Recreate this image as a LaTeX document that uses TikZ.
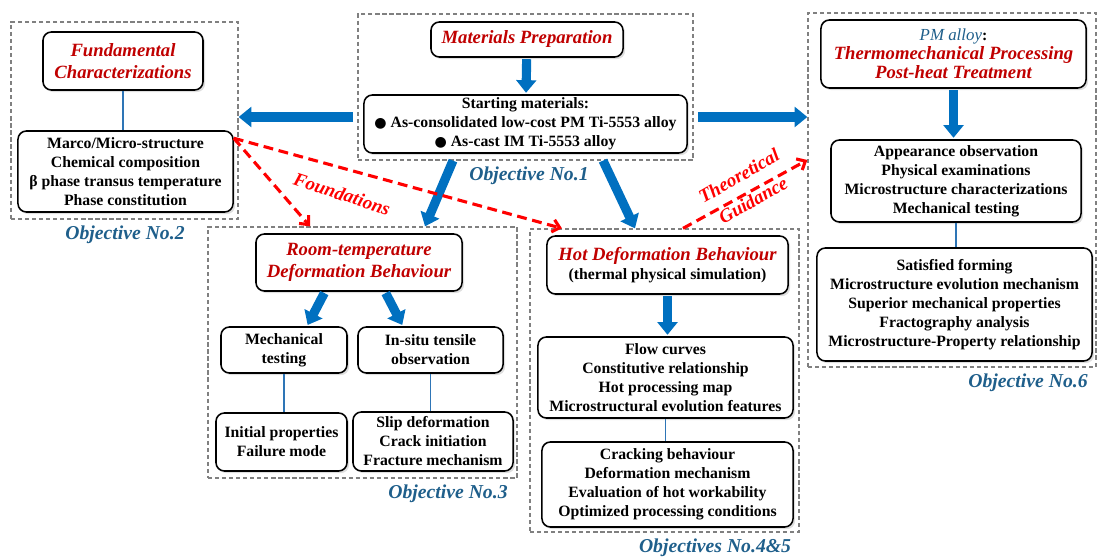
\documentclass[tikz,border=0pt]{standalone}
\usepackage{fontspec}
\setmainfont{Liberation Serif}
\newfontfamily\dejavu{DejaVu Sans}
\usetikzlibrary{arrows.meta,fit,shadows}
\definecolor{arrowblue}{HTML}{0070C0}
\definecolor{lineblue}{HTML}{2E75B6}
\definecolor{titlered}{HTML}{C00000}
\definecolor{dashred}{HTML}{FF0000}
\definecolor{objblue}{HTML}{1F5F8B}
\newcommand{\titlefont}{\fontsize{13.3}{16}\selectfont\bfseries\itshape\color{titlered}}
\begin{document}
\begin{tikzpicture}[x=0.025cm, y=-0.025cm,
		box/.style={draw, line width=1.1pt, rounded corners=6pt, fill=white, align=center, inner sep=2pt, font=\fontsize{11.2}{13.5}\selectfont\bfseries, drop shadow={opacity=0.25, shadow xshift=1.5pt, shadow yshift=-1.5pt}},
		titlebox/.style={box, font=\titlefont},
		objframe/.style={draw=gray, line width=0.9pt, dash pattern=on 3pt off 2pt, inner sep=0pt},
		objlabel/.style={font=\fontsize{14}{16}\selectfont\bfseries\itshape, text=objblue},
		bigarrow/.style={draw=arrowblue, line width=6.5pt, -{Triangle[length=9pt,width=14pt]}},
		link/.style={draw=lineblue, line width=1.2pt},
		guide/.style={draw=dashred, line width=2.2pt, dash pattern=on 7pt off 4pt, -{Straight Barb[length=5pt,width=9pt]}},
		guidelabel/.style={font=\fontsize{13.5}{20}\selectfont\bfseries\itshape, text=dashred, align=center}]
	\useasboundingbox (0,0) rectangle (1098,558);
	
	\node[objframe, fit={(358,14) (693,160)}] (obj1) {};
	\node[objframe, fit={(11,22) (238,219)}] (obj2) {};
	\node[objframe, fit={(208,227) (517,478)}] (obj3) {};
	\node[objframe, fit={(530,229) (799,532)}] (obj45) {};
	\node[objframe, fit={(808,13) (1096,367)}] (obj6) {};
	
	\node[objlabel] (lab1) at (529,176) {Objective No.1};
	\node[objlabel] (lab2) at (125,235) {Objective No.2};
	\node[objlabel] (lab3) at (448,494) {Objective No.3};
	\node[objlabel] (lab45) at (715,548) {Objectives No.4\&5};
	\node[objlabel] (lab6) at (1028,383) {Objective No.6};
	
	\node[titlebox, minimum width=4.8cm, minimum height=0.875cm] (prep) at (527,39.5) {Materials Preparation};
	\node[box, minimum width=8.075cm, minimum height=1.45cm] (start) at (525.5,124) {Starting materials:\\ {\dejavu\fontsize{10}{12}\selectfont ●} As-consolidated low-cost PM Ti-5553 alloy\\ {\dejavu\fontsize{10}{12}\selectfont ●} As-cast IM Ti-5553 alloy};
	
	\node[titlebox, minimum width=4cm, minimum height=1.45cm] (fund) at (123,61) {Fundamental\\Characterizations};
	\node[box, minimum width=5.375cm, minimum height=2.025cm] (char) at (125.5,171.5) {Marco/Micro-structure\\Chemical composition\\β phase transus temperature\\Phase constitution};
	
	\node[titlebox, minimum width=5.15cm, minimum height=1.425cm] (room) at (359,262.5) {Room-temperature\\Deformation Behaviour};
	\node[box, minimum width=3.15cm, minimum height=1.15cm] (mech) at (284,350) {Mechanical\\testing};
	\node[box, minimum width=3.625cm, minimum height=1.15cm] (insitu) at (430.5,350) {In-situ tensile\\observation};
	\node[box, minimum width=3.275cm, minimum height=1.45cm] (init) at (281.5,442) {Initial properties\\Failure mode};
	\node[box, minimum width=4cm, minimum height=1.475cm] (slip) at (433,441.5) {Slip deformation\\Crack initiation\\Fracture mechanism};
	
	\node[box, minimum width=6.025cm, minimum height=1.45cm] (hot) at (667.5,265) {{\titlefont Hot Deformation Behaviour}\\(thermal physical simulation)};
	\node[box, minimum width=6.375cm, minimum height=2.025cm] (flow) at (665.5,377.5) {Flow curves\\Constitutive relationship\\Hot processing map\\Microstructural evolution features};
	\node[box, minimum width=6.275cm, minimum height=2.125cm] (crack) at (667.5,484.5) {Cracking behaviour\\Deformation mechanism\\Evaluation of hot workability\\Optimized processing conditions};
	
	\node[box, minimum width=6.625cm, minimum height=1.7cm] (pm) at (953.5,54) {{\fontsize{12}{15}\selectfont\mdseries\itshape\color{objblue}PM alloy}:\\{\titlefont Thermomechanical Processing}\\{\titlefont Post-heat Treatment}};
	\node[box, minimum width=6.25cm, minimum height=2.05cm] (appear) at (956,181) {Appearance observation\\Physical examinations\\Microstructure characterizations\\Mechanical testing};
	\node[box, minimum width=6.875cm, minimum height=2.825cm] (satis) at (954.5,304.5) {Satisfied forming\\Microstructure evolution mechanism\\Superior mechanical properties\\Fractography analysis\\Microstructure-Property relationship};
	
	\coordinate (lv) at (0,117);
	\draw[bigarrow, shorten <=3pt] (obj1.west |- lv) -- (obj2.east |- lv);
	\draw[bigarrow, shorten <=3pt] (obj1.east |- lv) -- (obj6.west |- lv);
	\draw[bigarrow] ([xshift=-1.8125cm]obj1.south) -- ([xshift=1.5625cm]obj3.north);
	\draw[bigarrow] ([xshift=1.9375cm]obj1.south) -- ([xshift=-0.7375cm]obj45.north);
	\draw[bigarrow, shorten <=1pt, shorten >=1pt] (prep) -- (start);
	\draw[bigarrow, shorten <=1pt, shorten >=1pt] (pm.south) -- (pm.south |- appear.north);
	\draw[bigarrow, shorten <=1pt, shorten >=1pt] (hot.south) -- (hot.south |- flow.north);
	\draw[bigarrow, shorten <=1pt, shorten >=1pt] ([xshift=-0.85cm]room.south) -- ([xshift=0.575cm]mech.north);
	\draw[bigarrow, shorten <=1pt, shorten >=1pt] ([xshift=0.65cm]room.south) -- ([xshift=-0.69cm]insitu.north);
	
	\draw[link] (fund.south) -- (fund.south |- char.north);
	\draw[link] (mech.south) -- (mech.south |- init.north);
	\draw[link] (insitu.south) -- (insitu.south |- slip.north);
	\draw[link] (flow.south) -- (flow.south |- crack.north);
	\draw[link] (appear.south) -- (appear.south |- satis.north);
	
	\coordinate (fstart) at ([yshift=-0.2cm]char.north east);
	\draw[guide] (fstart) -- ([xshift=-1.3125cm]obj3.north);
	\draw[guide] (fstart) -- ([xshift=-2.5625cm]obj45.north);
	\draw[guide] ([xshift=0.4625cm]obj45.north) -- ([yshift=0.75cm]obj6.west);
	\node[guidelabel, rotate=-18] (found) at (342,194) {Foundations};
	\node[guidelabel, rotate=30] (theory) at (746,188) {Theoretical\\Guidance};
\end{tikzpicture}
\end{document}
